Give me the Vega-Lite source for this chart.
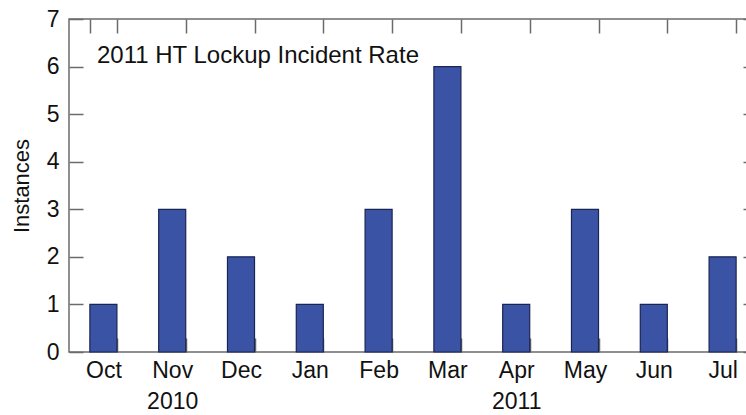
{
  "$schema": "https://vega.github.io/schema/vega-lite/v6.json",
  "width": 688,
  "height": 333,
  "autosize": {"type": "none"},
  "padding": {"left": 69, "top": 19, "right": 0, "bottom": 63},
  "background": "white",
  "title": {
    "text": "2011 HT Lockup Incident Rate",
    "anchor": "start",
    "frame": "group",
    "orient": "top",
    "offset": 0,
    "dx": 28,
    "dy": 72,
    "baseline": "middle",
    "fontSize": 24,
    "font": "Liberation Sans",
    "fontWeight": "normal",
    "color": "#111111"
  },
  "data": {
    "values": [
      {"month": "Oct", "instances": 1},
      {"month": "Nov", "instances": 3},
      {"month": "Dec", "instances": 2},
      {"month": "Jan", "instances": 1},
      {"month": "Feb", "instances": 3},
      {"month": "Mar", "instances": 6},
      {"month": "Apr", "instances": 1},
      {"month": "May", "instances": 3},
      {"month": "Jun", "instances": 1},
      {"month": "Jul", "instances": 2}
    ]
  },
  "layer": [
    {
      "mark": {"type": "bar", "fill": "#3a53a4", "stroke": "#1b2553", "strokeWidth": 1.2},
      "encoding": {
        "x": {
          "field": "month", "type": "nominal", "sort": null,
          "scale": {"paddingInner": 0.607, "paddingOuter": 0.3035},
          "axis": {
            "orient": "bottom", "title": null, "domain": false,
            "tickBand": "extent", "tickSize": -14, "tickColor": "#6b6b6b", "tickWidth": 1.5,
            "labelAngle": 0, "labelFont": "Liberation Sans", "labelFontSize": 23, "labelColor": "#111111",
            "labelPadding": 21, "labelBaseline": "top", "labelLineHeight": 31,
            "labelExpr": "datum.value == 'Nov' ? ['Nov', '2010'] : datum.value == 'Apr' ? ['Apr', '2011'] : datum.value"
          }
        },
        "y": {
          "field": "instances", "type": "quantitative",
          "scale": {"domain": [0, 7], "nice": false},
          "axis": {
            "orient": "left", "title": "Instances", "domain": false, "grid": false,
            "values": [0, 1, 2, 3, 4, 5, 6, 7],
            "tickSize": -14, "tickColor": "#6b6b6b", "tickWidth": 1.5,
            "labelFont": "Liberation Sans", "labelFontSize": 23, "labelColor": "#111111", "labelPadding": 24,
            "titleFont": "Liberation Sans", "titleFontSize": 22, "titleFontWeight": "normal", "titleColor": "#111111", "titlePadding": 13
          }
        }
      }
    },
    {
      "mark": {"type": "bar", "opacity": 0},
      "encoding": {
        "x": {
          "field": "month", "type": "nominal", "sort": null,
          "axis": {"orient": "top", "title": null, "domain": false, "labels": false,
            "tickBand": "extent", "tickSize": -14, "tickColor": "#6b6b6b", "tickWidth": 1.5}
        },
        "y": {
          "field": "instances", "type": "quantitative",
          "axis": {"orient": "right", "title": null, "domain": false, "labels": false, "grid": false,
            "values": [0, 1, 2, 3, 4, 5, 6, 7],
            "tickSize": -14, "tickColor": "#6b6b6b", "tickWidth": 1.5}
        }
      }
    }
  ],
  "resolve": {"axis": {"x": "independent", "y": "independent"}},
  "config": {
    "view": {"stroke": "#6b6b6b", "strokeWidth": 1.5}
  }
}
